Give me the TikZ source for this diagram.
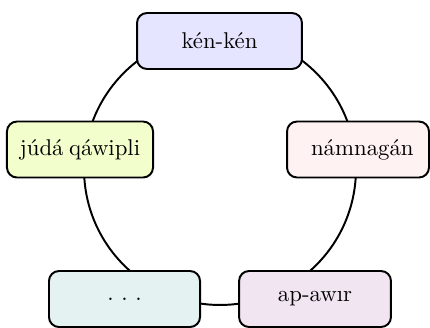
\documentclass[tikz,border=0pt]{standalone}
\usepackage{tikz}
\begin{document}
\begin{tikzpicture}[x=0.4608pt,y=-0.4608pt,
  cyclebox/.style={draw=black, line width=0.9pt, rounded corners=4.6pt,
    minimum height=25.8pt, inner sep=0pt, align=center, font=\fontsize{10.5pt}{12pt}\selectfont},
  ringline/.style={draw=black, line width=0.9pt}]
\useasboundingbox (0,0) rectangle (430,327);
\coordinate (c) at (220,169);
\node[ringline, circle, minimum size=125.3pt, inner sep=0pt] (ring) at (c) {};
\node[cyclebox, fill=blue!10, minimum width=76pt] (top) at (219.5,41) {kén-kén};
\node[cyclebox, fill=red!5, minimum width=65.4pt] (right) at (358,149.5) {\hspace*{4pt}námnagán};
\node[cyclebox, fill=violet!10, minimum width=70pt] (br) at (315,299) {ap-awır};
\node[cyclebox, fill=teal!10, minimum width=69.6pt] (bl) at (124.5,299) {.\ .\ .};
\node[cyclebox, fill=lime!20, minimum width=67.3pt] (left) at (80,149.5) {júdá\hspace{2.6pt}qáwipli};
\end{tikzpicture}
\end{document}
